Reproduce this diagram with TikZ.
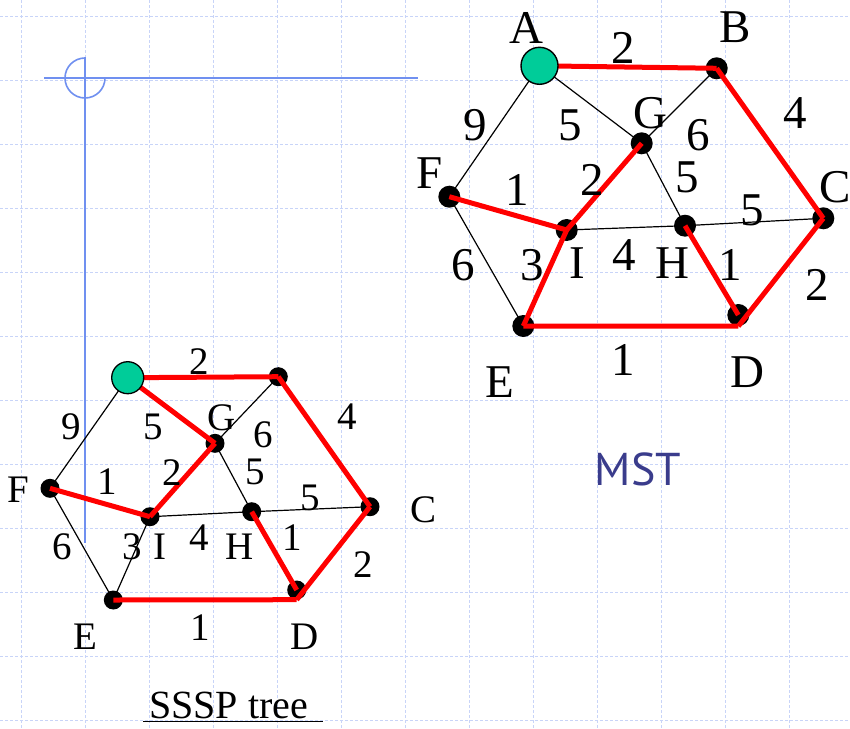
\documentclass[tikz,border=0pt]{standalone}
\usepackage{fontspec}
\setmainfont{Liberation Serif}
\newfontfamily\mstfont{PT Sans}
\definecolor{gridc}{RGB}{200,212,248}
\definecolor{guidec}{RGB}{112,144,240}
\definecolor{srcgreen}{RGB}{0,204,153}
\definecolor{treered}{RGB}{255,0,0}
\definecolor{msttext}{RGB}{58,60,140}
\pgfdeclarelayer{bg}
\pgfdeclarelayer{edges}
\pgfdeclarelayer{srclayer}
\pgfsetlayers{bg,edges,main,srclayer}
\begin{document}
\begin{tikzpicture}[x=1pt,y=-1pt,
  gridline/.style={draw=gridc,line width=0.8pt,dash pattern=on 3pt off 2pt},
  guide/.style={draw=guidec,line width=1.6pt},
  plain/.style={draw=black,line width=1.2pt},
  tree/.style={draw=treered,line width=5pt},
  bigdot/.style={circle,fill=black,inner sep=0pt,minimum size=22pt},
  smalldot/.style={circle,fill=black,inner sep=0pt,minimum size=19pt},
  bigsrc/.style={circle,draw=black,line width=1.4pt,fill=srcgreen,inner sep=0pt,minimum size=37pt},
  smallsrc/.style={circle,draw=black,line width=1.3pt,fill=srcgreen,inner sep=0pt,minimum size=32pt},
  bigtxt/.style={inner sep=0pt,font=\fontsize{47}{47}\selectfont},
  smalltxt/.style={inner sep=0pt,font=\fontsize{39}{39}\selectfont},
  mstlbl/.style={inner sep=0pt,text=msttext,font=\mstfont\fontsize{46}{46}\selectfont},
  caption/.style={inner sep=0pt,anchor=base,font=\fontsize{40}{40}\selectfont}
]
\useasboundingbox (0,0) rectangle (850,728);

% background grid and guides
\begin{pgfonlayer}{bg}
  \fill[white] (0,0) rectangle (850,728);
  \foreach \gx in {21,85,...,789} \draw[gridline] (\gx,0) -- (\gx,728);
  \foreach \gy in {16,80,...,720} \draw[gridline] (0,\gy) -- (850,\gy);
  \coordinate (hl1) at (44,78);
  \coordinate (hl2) at (418,78);
  \coordinate (vl1) at (85,57);
  \coordinate (vl2) at (85,543);
  \coordinate (arcstart) at (85,58);
  \draw[guide] (hl1) -- (hl2);
  \draw[guide] (vl1) -- (vl2);
  \draw[guide] (arcstart) arc[start angle=90,end angle=360,radius=20pt];
\end{pgfonlayer}

% source vertices (on top)
\begin{pgfonlayer}{srclayer}
  \node[bigsrc] (mA) at (539.5,65.8) {};
  \node[smallsrc] (sA) at (127.7,377.7) {};
\end{pgfonlayer}

% ---------------- MST (right) ----------------
\node[bigdot] (mB) at (716.7,68.3) {};
\node[bigdot] (mG) at (641.7,143.3) {};
\node[bigdot] (mF) at (449.3,196.7) {};
\node[bigdot] (mI) at (566.7,230) {};
\node[bigdot] (mH) at (685,225.7) {};
\node[bigdot] (mC) at (823.3,218.3) {};
\node[bigdot] (mE) at (523.3,326) {};
\node[bigdot] (mD) at (738.3,315) {};

% ---------------- SSSP (left) ----------------
\node[smalldot] (sB) at (278.3,376.7) {};
\node[smalldot] (sG) at (215,443.3) {};
\node[smalldot] (sF) at (50,488.3) {};
\node[smalldot] (sI) at (150,516.7) {};
\node[smalldot] (sH) at (251.7,511.7) {};
\node[smalldot] (sC) at (370,506.7) {};
\node[smalldot] (sE) at (113.3,600) {};
\node[smalldot] (sD) at (296.7,590) {};

% thin black edges (below dots)
\begin{pgfonlayer}{edges}
  \draw[plain] (mA.center) -- (mF.center);
  \draw[plain] (mA.center) -- (mG.center);
  \draw[plain] (mG.center) -- (mB.center);
  \draw[plain] (mG.center) -- (mH.center);
  \draw[plain] (mH.center) -- (mC.center);
  \draw[plain] (mF.center) -- (mE.center);
  \draw[plain] (mI.center) -- (mH.center);

  \draw[plain] (sA.center) -- (sF.center);
  \draw[plain] (sG.center) -- (sB.center);
  \draw[plain] (sG.center) -- (sH.center);
  \draw[plain] (sH.center) -- (sC.center);
  \draw[plain] (sF.center) -- (sE.center);
  \draw[plain] (sE.center) -- (sI.center);
  \draw[plain] (sI.center) -- (sH.center);
\end{pgfonlayer}

% red tree edges (over dots)
\draw[tree] (mA.center) -- (mB.center);
\draw[tree] (mB.center) -- (mC.center);
\draw[tree] (mF.center) -- (mI.center);
\draw[tree] (mI.center) -- (mG.center);
\draw[tree] (mE.center) -- (mI.center);
\draw[tree] (mH.center) -- (mD.center);
\draw[tree] (mC.center) -- (mD.south);
\draw[tree] (mE.center) -- (mD.south);

\draw[tree] (sA.center) -- (sB.center);
\draw[tree] (sA.center) -- (sG.center);
\draw[tree] (sB.center) -- (sC.center);
\draw[tree] (sF.center) -- (sI.center);
\draw[tree] (sI.center) -- (sG.center);
\draw[tree] (sH.center) -- (sD.center);
\draw[tree] (sC.center) -- (sD.south);
\draw[tree] (sE.center) -- (sD.south);

% MST vertex labels
\node[bigtxt] (mlA) at (526,28) {A};
\node[bigtxt] (mlB) at (735,27) {B};
\node[bigtxt] (mlG) at (650,113) {G};
\node[bigtxt] (mlF) at (430,173) {F};
\node[bigtxt] (mlC) at (835,187) {C};
\node[bigtxt] (mlI) at (577,263) {I};
\node[bigtxt] (mlH) at (672,263) {H};
\node[bigtxt] (mlE) at (500,382) {E};
\node[bigtxt] (mlD) at (747,372) {D};
% MST weights
\node[bigtxt] (mwAB) at (623,48) {2};
\node[bigtxt] (mwAF) at (475,125) {9};
\node[bigtxt] (mwAG) at (570,125) {5};
\node[bigtxt] (mwGB) at (698,135) {6};
\node[bigtxt] (mwBC) at (795,113) {4};
\node[bigtxt] (mwFI) at (517,190) {1};
\node[bigtxt] (mwIG) at (592,180) {2};
\node[bigtxt] (mwGH) at (687,177) {5};
\node[bigtxt] (mwHC) at (752,210) {5};
\node[bigtxt] (mwFE) at (463,265) {6};
\node[bigtxt] (mwEI) at (532,265) {3};
\node[bigtxt] (mwIH) at (624,255) {4};
\node[bigtxt] (mwHD) at (730,265) {1};
\node[bigtxt] (mwCD) at (817,285) {2};
\node[bigtxt] (mwED) at (623,360) {1};
\node[mstlbl] (mstcap) at (638,469.5) {MST};

% SSSP vertex labels
\node[smalltxt] (slG) at (222,418) {G};
\node[smalltxt] (slF) at (18,490) {F};
\node[smalltxt] (slC) at (423,510) {C};
\node[smalltxt] (slI) at (160,547) {I};
\node[smalltxt] (slH) at (240,547) {H};
\node[smalltxt] (slE) at (85,637) {E};
\node[smalltxt] (slD) at (305,637) {D};
% SSSP weights
\node[smalltxt] (swAB) at (199,362) {2};
\node[smalltxt] (swAF) at (71,427) {9};
\node[smalltxt] (swAG) at (153,427) {5};
\node[smalltxt] (swGB) at (263,435) {6};
\node[smalltxt] (swBC) at (347,417) {4};
\node[smalltxt] (swFI) at (107,482) {1};
\node[smalltxt] (swIG) at (172,473) {2};
\node[smalltxt] (swGH) at (255,472) {5};
\node[smalltxt] (swHC) at (310,498) {5};
\node[smalltxt] (swFE) at (62,547) {6};
\node[smalltxt] (swEI) at (132,547) {3};
\node[smalltxt] (swIH) at (199,538) {4};
\node[smalltxt] (swHD) at (292,538) {1};
\node[smalltxt] (swCD) at (363,565) {2};
\node[smalltxt] (swED) at (200,628) {1};

\node[caption] (ssspcap) at (228.5,718) {SSSP tree};
\coordinate (ul1) at (143,721.5);
\coordinate (ul2) at (323,721.5);
\draw[line width=1.5pt] (ul1) -- (ul2);
\end{tikzpicture}
\end{document}
